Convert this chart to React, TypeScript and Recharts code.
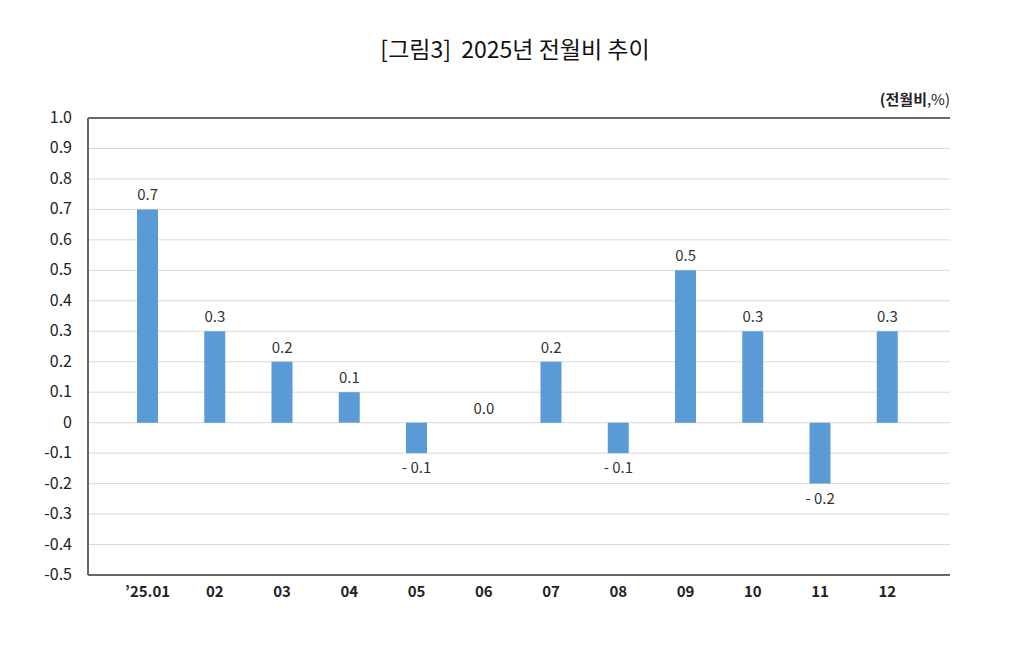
import React from "react";
import { ComposedChart, Bar, Line, XAxis, YAxis, CartesianGrid, LabelList, ReferenceLine } from "recharts";

const categories = ["'25.01", "02", "03", "04", "05", "06", "07", "08", "09", "10", "11", "12"];
const values = [0.7, 0.3, 0.2, 0.1, -0.1, 0.0, 0.2, -0.1, 0.5, 0.3, -0.2, 0.3];
const yTicks = [-0.5, -0.4, -0.3, -0.2, -0.1, 0, 0.1, 0.2, 0.3, 0.4, 0.5, 0.6, 0.7, 0.8, 0.9, 1.0];

const data = categories.map((c, i) => ({ name: c, value: values[i] }));

const FONT = "'Noto Sans CJK KR', 'Noto Sans', sans-serif";
const AXIS = "#5f6970";

const fmtTick = (v: number) => (v === 0 ? "0" : v.toFixed(1));

const renderLabel = (props: any) => {
  const { x, y, value } = props;
  const cx = Number(x);
  const py = Number(y);
  const v = Number(value);
  if (v < 0) {
    return (
      <text x={cx} y={py + 20} textAnchor="middle" fontSize={15} fill="#333" fontFamily={FONT}>
        {"- " + Math.abs(v).toFixed(1)}
      </text>
    );
  }
  return (
    <text x={cx} y={py - 9} textAnchor="middle" fontSize={15} fill="#333" fontFamily={FONT}>
      {v.toFixed(1)}
    </text>
  );
};

const XTick = (props: any) => {
  const { x, y, payload } = props;
  return (
    <text x={x} y={y + 14} textAnchor="middle" fontSize={15} fontWeight="bold" fill="#222" fontFamily={FONT}>
      {payload.value === "'25.01" ? "\u201925.01" : payload.value}
    </text>
  );
};

const YTick = (props: any) => {
  const { x, y, payload } = props;
  return (
    <text x={x} y={y + 5} textAnchor="end" fontSize={16} fill="#222" fontFamily={FONT}>
      {fmtTick(payload.value)}
    </text>
  );
};

export default function App() {
  return (
    <div style={{ position: "absolute", left: 0, top: 0, width: 1030, height: 650, background: "#fff", fontFamily: FONT }}>
      <div style={{ position: "absolute", left: 0, width: 1030, top: 32, textAlign: "center", fontSize: 23, color: "#111", lineHeight: "32px" }}>
        [그림3]&nbsp; 2025년 전월비 추이
      </div>
      <div style={{ position: "absolute", right: 80, top: 89, fontSize: 15, color: "#222", lineHeight: "20px" }}>
        <span style={{ fontWeight: "bold" }}>(전월비</span>,%)
      </div>
      <ComposedChart
        width={1030}
        height={650}
        data={data}
        margin={{ top: 118, right: 80, bottom: 45, left: 0 }}
        barSize={21}
      >
        <CartesianGrid vertical={false} stroke="#d9d9d9" strokeWidth={1} />
        <XAxis
          dataKey="name"
          height={30}
          padding={{ left: 26, right: 29 }}
          tickLine={false}
          axisLine={{ stroke: AXIS, strokeWidth: 2 }}
          tick={<XTick />}
          interval={0}
        />
        <YAxis
          domain={[-0.5, 1.0]}
          ticks={yTicks}
          width={88}
          interval={0}
          tickLine={false}
          axisLine={{ stroke: AXIS, strokeWidth: 2 }}
          tick={<YTick />}
          tickMargin={10}
        />
        <YAxis
          yAxisId="right"
          orientation="right"
          domain={[-0.5, 1.0]}
          width={0}
          tick={false}
          tickLine={false}
          axisLine={{ stroke: AXIS, strokeWidth: 2 }}
        />
        <ReferenceLine y={1.0} stroke={AXIS} strokeWidth={2} />
        <Bar dataKey="value" fill="#5b9bd5" isAnimationActive={false} />
        <Line dataKey="value" stroke="none" dot={false} activeDot={false} isAnimationActive={false}>
          <LabelList dataKey="value" content={renderLabel} />
        </Line>
      </ComposedChart>
    </div>
  );
}
